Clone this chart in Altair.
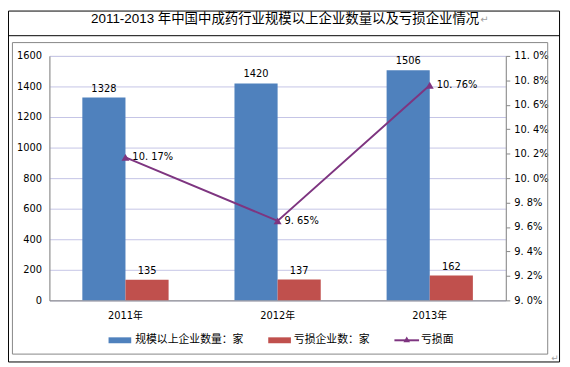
import altair as alt
import pandas as pd

years = ["2011年", "2012年", "2013年"]
total_counts = [1328, 1420, 1506]
loss_counts = [135, 137, 162]
loss_rates = [10.17, 9.65, 10.76]
series_names = ["规模以上企业数量：家", "亏损企业数：家"]
line_name = "亏损面"
title_text = "2011-2013 年中国中成药行业规模以上企业数量以及亏损企业情况"

bar_colors = ["#4F81BD", "#C0504D"]
line_color = "#7E3580"
grid_color = "#C4C4E6"
axis_color = "#868686"
FONT = "DejaVu Sans, Noto Sans CJK SC"
CJK = "Liberation Sans, Noto Sans CJK SC"

rows = []
for y, a, b in zip(years, total_counts, loss_counts):
    rows.append({"year": y, "series": series_names[0], "value": a})
    rows.append({"year": y, "series": series_names[1], "value": b})
bars_df = pd.DataFrame(rows)

line_df = pd.DataFrame({
    "year": years,
    "rate": loss_rates,
    "label": [f"{v:.2f}".replace(".", ". ") + "%" for v in loss_rates],
})

W, H = 463, 248

x_scale = alt.Scale(paddingInner=0.433, paddingOuter=0.2165)
x_axis = alt.Axis(title=None, labelAngle=0, domainColor=axis_color, ticks=False,
                  labelPadding=10, labelFontSize=10, labelColor="#000",
                  labelFont=FONT)
x_enc = alt.X("year:N", sort=years, scale=x_scale, axis=x_axis)

yl_scale = alt.Scale(domain=[0, 1600], nice=False, zero=True)
yr_scale = alt.Scale(domain=[9.0, 11.0], nice=False, zero=False)

bars = alt.Chart(bars_df).mark_bar().encode(
    x=x_enc,
    xOffset=alt.XOffset("series:N", sort=series_names),
    y=alt.Y("value:Q", scale=yl_scale,
            axis=alt.Axis(orient="left", title=None, values=list(range(0, 1601, 200)),
                          format="d",
                          grid=True, gridColor=grid_color, domainColor=axis_color,
                          ticks=False, labelPadding=8, labelFontSize=10,
                          labelColor="#000", labelFont=FONT)),
    color=alt.Color("series:N", scale=alt.Scale(domain=series_names, range=bar_colors),
                    legend=None),
)

bar_text = alt.Chart(bars_df).mark_text(baseline="bottom", dy=-4, fontSize=10,
                                        font=FONT, color="#000").encode(
    x=x_enc,
    xOffset=alt.XOffset("series:N", sort=series_names),
    y=alt.Y("value:Q", scale=yl_scale, axis=None),
    text="value:Q",
)

line = alt.Chart(line_df).mark_line(color=line_color, strokeWidth=2).encode(
    x=x_enc,
    y=alt.Y("rate:Q", scale=yr_scale,
            axis=alt.Axis(orient="right", title=None,
                          values=[9.0, 9.2, 9.4, 9.6, 9.8, 10.0, 10.2, 10.4, 10.6, 10.8, 11.0],
                          labelExpr="replace(format(datum.value, '.1f'), '.', '. ') + '%'",
                          grid=False, domainColor=axis_color, tickColor=axis_color,
                          tickSize=4, labelPadding=4, labelFontSize=10,
                          labelColor="#000", labelFont=FONT)),
)

pts = alt.Chart(line_df).mark_point(shape="triangle-up", filled=True, size=65,
                                    color=line_color, opacity=1).encode(
    x=x_enc,
    y=alt.Y("rate:Q", scale=yr_scale, axis=None),
)

line_text = alt.Chart(line_df).mark_text(align="left", baseline="middle", dx=7,
                                         fontSize=10, font=FONT, color="#000").encode(
    x=x_enc,
    y=alt.Y("rate:Q", scale=yr_scale, axis=None),
    text="label:N",
)

base = alt.Chart(pd.DataFrame({"d": [0]}))


def rule(x1, y1, x2, y2, color, w=1):
    return base.mark_rule(color=color, strokeWidth=w).encode(
        x=alt.value(x1), x2=alt.value(x2), y=alt.value(y1), y2=alt.value(y2))


decor = [
    # outer black border
    rule(-41.5, -45.5, 517.5, -45.5, "#000"),
    rule(-41.5, 310.5, 517.5, 310.5, "#000"),
    rule(-41.5, -45.5, -41.5, 310.5, "#000"),
    rule(517.5, -45.5, 517.5, 310.5, "#000"),
    # title separator
    rule(-41.5, -20.5, 517.5, -20.5, "#000"),
    # inner gray box
    rule(-37.5, -13.5, 505.5, -13.5, axis_color),
    rule(-37.5, 302.5, 505.5, 302.5, axis_color),
    rule(-37.5, -13.5, -37.5, 302.5, axis_color),
    rule(505.5, -13.5, 505.5, 302.5, axis_color),
]

title_main = base.mark_text(text=title_text, align="right", baseline="middle",
                            fontSize=13.6, font=CJK, color="#000").encode(
    x=alt.value(436), y=alt.value(-37))
title_mark = base.mark_text(text="↵", align="left", baseline="middle",
                            fontSize=10, font=FONT, color="#A0A0A0").encode(
    x=alt.value(437), y=alt.value(-36))
corner_mark = base.mark_text(text="↵", align="left", baseline="middle",
                             fontSize=9, font=FONT, color="#A0A0A0").encode(
    x=alt.value(509), y=alt.value(306))

LY = 288.5
legend = [
    base.mark_rect(color=bar_colors[0]).encode(
        x=alt.value(60), x2=alt.value(83), y=alt.value(LY - 3), y2=alt.value(LY + 3)),
    base.mark_text(text=series_names[0], align="left", baseline="middle", fontSize=11,
                   font=CJK, color="#000").encode(
        x=alt.value(87), y=alt.value(LY)),
    base.mark_rect(color=bar_colors[1]).encode(
        x=alt.value(222), x2=alt.value(245), y=alt.value(LY - 3), y2=alt.value(LY + 3)),
    base.mark_text(text=series_names[1], align="left", baseline="middle", fontSize=11,
                   font=CJK, color="#000").encode(
        x=alt.value(248), y=alt.value(LY)),
    rule(350, LY, 375, LY, line_color, 2),
    base.mark_point(shape="triangle-up", filled=True, size=45, color=line_color,
                    opacity=1).encode(x=alt.value(362.5), y=alt.value(LY - 1)),
    base.mark_text(text=line_name, align="left", baseline="middle", fontSize=11,
                   font=CJK, color="#000").encode(
        x=alt.value(377), y=alt.value(LY)),
]

chart = alt.layer(
    bars, bar_text, line, pts, line_text,
    *decor, title_main, title_mark, corner_mark, *legend,
).resolve_scale(y="independent").properties(
    width=W, height=H,
    autosize=alt.AutoSizeParams(type="none"),
    padding={"left": 42, "top": 46, "right": 57, "bottom": 65},
).configure_view(stroke=None).configure(background="white")

chart.save("out.html", embed_options={"renderer": "svg", "actions": False})
